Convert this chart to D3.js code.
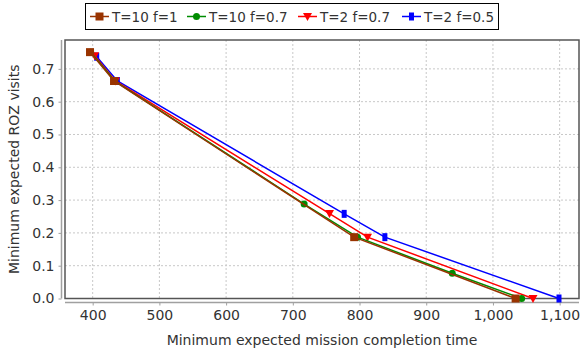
<!DOCTYPE html>
<html>
<head>
  <meta charset="utf-8">
  <script type="text/javascript" src="https://d3js.org/d3.v7.min.js"></script>
  <style>
    body {
      margin: 0;
      background-color: white;
    }
    text {
      font-family: "DejaVu Sans", sans-serif;
      fill: #333;
    }
    .grid line {
      stroke: #c8c8c8;
      stroke-width: 1;
      stroke-dasharray: 2, 2;
    }
  </style>
</head>
<body>
  <svg id="canvas" width="580" height="353"></svg>
</body>
<script>
  // series
  let seriesNames = ["T=10 f=1", "T=10 f=0.7", "T=2 f=0.7", "T=2 f=0.5"];
  let seriesColors = ["#993300", "#008c00", "#ff0000", "#0000ff"];
  let seriesShapes = ["square", "circle", "triangle", "rect"];

  let time10f1 = [396, 432, 792, 1034];
  let visits10f1 = [0.751, 0.663, 0.187, 0];

  let time10f07 = [397, 433, 717, 797, 939, 1043];
  let visits10f07 = [0.751, 0.663, 0.288, 0.187, 0.077, 0];

  let time2f07 = [403, 434, 755, 812, 1060];
  let visits2f07 = [0.740, 0.663, 0.259, 0.187, 0];

  let time2f05 = [406, 437, 777, 838, 1099];
  let visits2f05 = [0.737, 0.663, 0.258, 0.187, 0];

  let xTicks = [400, 500, 600, 700, 800, 900, 1000, 1100];
  let yTicks = [0, 0.1, 0.2, 0.3, 0.4, 0.5, 0.6, 0.7];

  let svg = d3.select("svg");

  let plot = { left: 65, right: 579, top: 40, bottom: 298.5 };

  let x = d3.scaleLinear().domain([358.5, 1129]).range([plot.left, plot.right]);
  let y = d3.scaleLinear().domain([0, 0.788]).range([plot.bottom, plot.top]);

  let series = [
    { xs: time10f1, ys: visits10f1 },
    { xs: time10f07, ys: visits10f07 },
    { xs: time2f07, ys: visits2f07 },
    { xs: time2f05, ys: visits2f05 }
  ].map((s, i) => ({
    name: seriesNames[i],
    color: seriesColors[i],
    shape: seriesShapes[i],
    points: s.xs.map((v, j) => ({ x: v, y: s.ys[j] }))
  }));

  // gridlines
  let grid = svg.append("g").attr("class", "grid");
  grid.selectAll(".vx").data(xTicks).enter().append("line")
      .attr("x1", d => x(d)).attr("x2", d => x(d))
      .attr("y1", plot.top).attr("y2", plot.bottom);
  grid.selectAll(".hy").data(yTicks.filter(d => d > 0)).enter().append("line")
      .attr("x1", plot.left).attr("x2", plot.right)
      .attr("y1", d => y(d)).attr("y2", d => y(d));

  // plot border
  svg.append("rect")
      .attr("x", plot.left).attr("y", plot.top)
      .attr("width", plot.right - plot.left).attr("height", plot.bottom - plot.top)
      .attr("fill", "none").attr("stroke", "#555").attr("stroke-width", 1.5);

  // axes, offset from the plot like JFreeChart does
  let xAxis = svg.append("g")
      .attr("transform", `translate(0,${plot.bottom + 4})`)
      .call(d3.axisBottom(x).tickValues(xTicks).tickSize(3).tickPadding(5)
               .tickFormat(d3.format(",")));
  let yAxis = svg.append("g")
      .attr("transform", `translate(${plot.left - 3.5},0)`)
      .call(d3.axisLeft(y).tickValues(yTicks).tickSize(3).tickPadding(4)
               .tickFormat(d3.format(".1f")));
  [xAxis, yAxis].forEach(a => {
    a.select(".domain").attr("stroke", "#a0a0a0").attr("stroke-width", 1.5);
    a.selectAll(".tick line").attr("stroke", "#a0a0a0");
    a.selectAll("text").attr("font-size", 14).attr("font-family", "DejaVu Sans").attr("fill", "#333");
  });
  xAxis.select(".domain").attr("d", `M${plot.left},0H${plot.right}`);
  yAxis.select(".domain").attr("d", `M0,${plot.top}V${plot.bottom}`);

  svg.append("text")
      .attr("x", (plot.left + plot.right) / 2).attr("y", 345)
      .attr("text-anchor", "middle").attr("font-size", 14)
      .text("Minimum expected mission completion time");
  svg.append("text")
      .attr("transform", `translate(19,${(plot.top + plot.bottom) / 2}) rotate(-90)`)
      .attr("text-anchor", "middle").attr("font-size", 14)
      .text("Minimum expected ROZ visits");

  // lines, last series underneath
  let line = d3.line().x(d => x(d.x)).y(d => y(d.y));
  let drawOrder = series.slice().reverse();

  function drawMarker(g, shape, color, cx, cy) {
    if (shape === "square") {
      g.append("rect").attr("x", cx - 4).attr("y", cy - 4).attr("width", 8).attr("height", 8).attr("fill", color);
    } else if (shape === "circle") {
      g.append("circle").attr("cx", cx).attr("cy", cy).attr("r", 3.5).attr("fill", color);
    } else if (shape === "triangle") {
      g.append("path").attr("d", `M${cx - 4.5},${cy - 3.5}L${cx + 4.5},${cy - 3.5}L${cx},${cy + 4.5}Z`).attr("fill", color);
    } else {
      g.append("rect").attr("x", cx - 2.5).attr("y", cy - 4).attr("width", 5).attr("height", 8).attr("fill", color);
    }
  }

  let marks = svg.append("g");
  drawOrder.forEach(s => {
    let g = marks.append("g");
    g.append("path").datum(s.points).attr("d", line)
        .attr("fill", "none").attr("stroke", s.color).attr("stroke-width", 1.5);
    s.points.forEach(p => drawMarker(g, s.shape, s.color, x(p.x), y(p.y)));
  });

  // legend
  let legend = svg.append("g");
  legend.append("rect")
      .attr("x", 85.5).attr("y", 3.5).attr("width", 413).attr("height", 26)
      .attr("fill", "white").attr("stroke", "#000").attr("stroke-width", 1);
  let legendX = [90, 187, 298, 402];
  series.forEach((s, i) => {
    let g = legend.append("g");
    let lx = legendX[i];
    g.append("line").attr("x1", lx).attr("x2", lx + 19).attr("y1", 16.5).attr("y2", 16.5)
        .attr("stroke", s.color).attr("stroke-width", 1.5);
    drawMarker(g, s.shape, s.color, lx + 9.5, 16.5);
    g.append("text").attr("x", lx + 22).attr("y", 21.5).attr("font-size", 13.5).text(s.name);
  });
</script>
</html>
